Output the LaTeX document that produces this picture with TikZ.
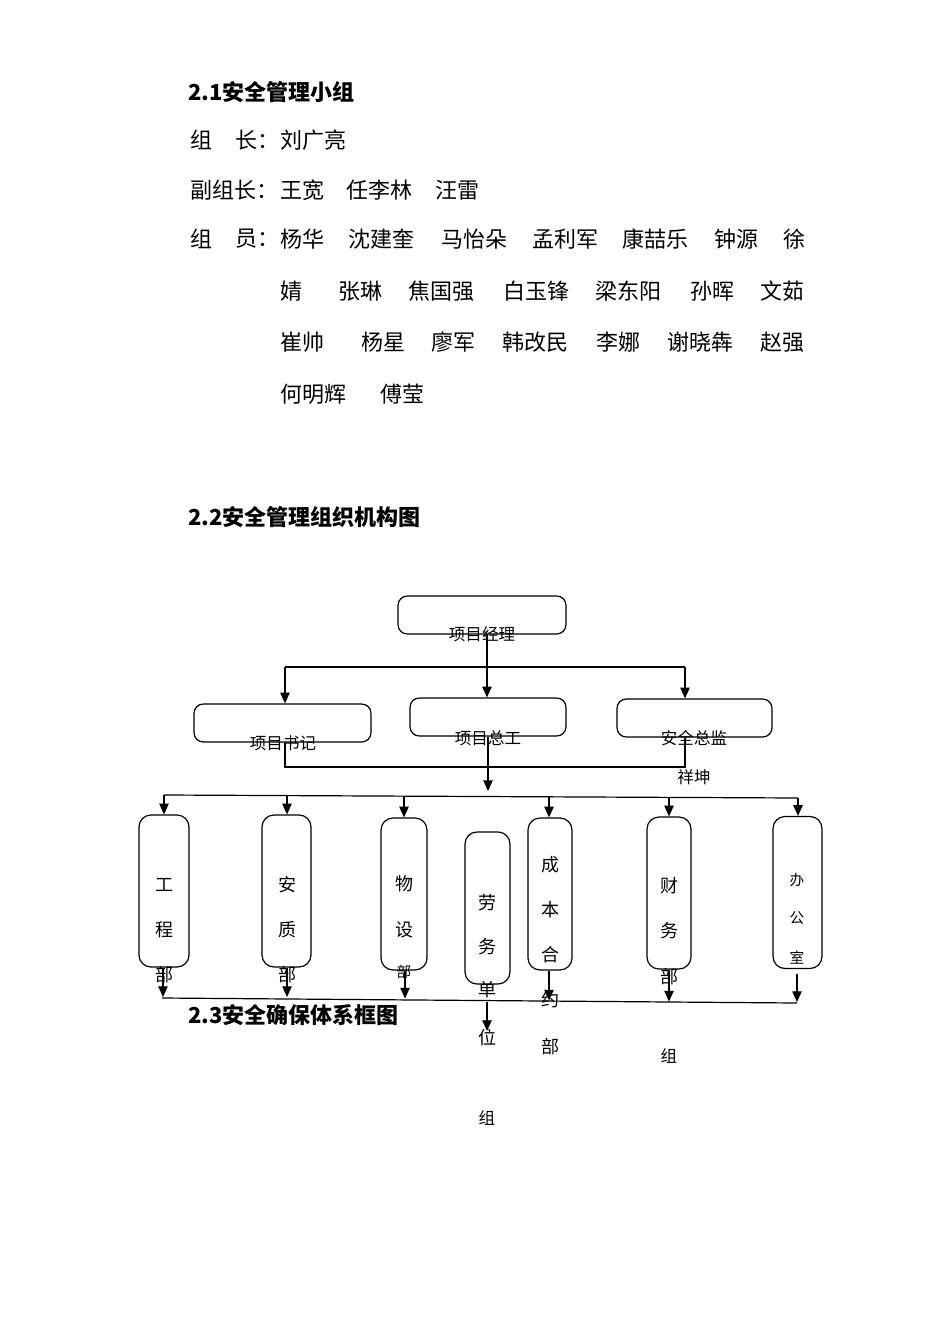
\documentclass[tikz,border=0pt]{standalone}
\usepackage{fontspec}
\setmainfont{Noto Sans CJK SC}
\usetikzlibrary{arrows.meta}
\begin{document}
\begin{tikzpicture}[x=0.75pt,y=-0.75pt,
  body/.style={font=\fontsize{16.5}{16.5}\selectfont, anchor=west, inner sep=0},
  head/.style={font=\fontsize{16.5}{16.5}\selectfont\bfseries, anchor=west, inner sep=0},
  lbl/.style={font=\fontsize{12.4}{12.4}\selectfont, inner sep=0},
  vlbl/.style={font=\fontsize{13.5}{13.5}\selectfont, inner sep=0},
  slbl/.style={font=\fontsize{11}{11}\selectfont, inner sep=0},
  hbox/.style={draw, rounded corners=7pt, line width=0.9pt, inner sep=0, minimum height=28.5pt},
  vbox/.style={draw, rounded corners=9pt, line width=0.9pt, inner sep=0, minimum height=114pt},
  conn/.style={line width=0.9pt},
  arr/.style={conn, -{Triangle[length=8pt,width=7pt]}}]
\fill[white] (0,0) rectangle (950,1344);
\useasboundingbox (0,0) rectangle (950,1344);

% ---- 2.1
\node[head] (h1) at (188,92) {2.1安全管理小组};
\node[body] (r1a) at (190,140) {组};
\node[body] (r1b) at (235,140) {长：};
\node[body] (r1c) at (280,140) {刘广亮};
\node[body] (r2a) at (190,190) {副组长：};
\node[body] (r2b) at (280,190) {王宽};
\node[body] (r2c) at (346,190) {任李林};
\node[body] (r2d) at (435,190) {汪雷};
\node[body] (r3a) at (190,239) {组};
\node[body] (r3b) at (235,239) {员：};
\node[body] (r3c) at (280,239) {杨华};
\node[body] (r3d) at (348,239) {沈建奎};
\node[body] (r3e) at (441,239) {马怡朵};
\node[body] (r3f) at (532,239) {孟利军};
\node[body] (r3g) at (622,239) {康喆乐};
\node[body] (r3h) at (714,239) {钟源};
\node[body] (r3i) at (783,239) {徐};
\node[body] (r4a) at (280,291) {婧};
\node[body] (r4b) at (338,291) {张琳};
\node[body] (r4c) at (408,291) {焦国强};
\node[body] (r4d) at (503,291) {白玉锋};
\node[body] (r4e) at (595,291) {梁东阳};
\node[body] (r4f) at (690,291) {孙晖};
\node[body] (r4g) at (760,291) {文茹};
\node[body] (r5a) at (280,342) {崔帅};
\node[body] (r5b) at (361,342) {杨星};
\node[body] (r5c) at (431,342) {廖军};
\node[body] (r5d) at (502,342) {韩改民};
\node[body] (r5e) at (596,342) {李娜};
\node[body] (r5f) at (667,342) {谢晓犇};
\node[body] (r5g) at (760,342) {赵强};
\node[body] (r6a) at (280,394) {何明辉};
\node[body] (r6b) at (380,394) {傅莹};

% ---- 2.2
\node[head] (h2) at (188,517) {2.2安全管理组织机构图};

% boxes
\node[hbox, minimum width=126pt] (pm) at (482,615) {};
\node[hbox, minimum width=132.75pt] (sj) at (282.5,723) {};
\node[hbox, minimum width=117pt] (zg) at (488,717) {};
\node[hbox, minimum width=116.25pt] (zj) at (694.5,718) {};
\node[lbl] (pmt) at (482,634) {项目经理};
\node[lbl] (sjt) at (283,743) {项目书记};
\node[lbl] (zgt) at (488,738) {项目总工};
\node[lbl] (zjt) at (694,738) {安全总监};
\node[lbl] (zjt2) at (694,777) {祥坤};

\node[vbox, minimum width=37.5pt] (b1) at (164,891) {};
\node[vbox, minimum width=36.75pt] (b2) at (286.5,891) {};
\node[vbox, minimum width=34.5pt] (b3) at (404,894) {};
\node[vbox, minimum width=33.75pt] (b4) at (487.5,908) {};
\node[vbox, minimum width=33pt] (b5) at (550,894) {};
\node[vbox, minimum width=33pt] (b6) at (669,893) {};
\node[vbox, minimum width=36.75pt] (b7) at (797.5,892.5) {};

\node[vlbl] (b1a) at (164,885) {工};
\node[vlbl] (b1b) at (164,930) {程};
\node[vlbl] (b1c) at (164,975) {部};
\node[vlbl] (b2a) at (287,885) {安};
\node[vlbl] (b2b) at (287,930) {质};
\node[vlbl] (b2c) at (287,975) {部};
\node[vlbl] (b3a) at (404,884) {物};
\node[vlbl] (b3b) at (404,930) {设};
\node[slbl] (b3c) at (404,972) {部};
\node[vlbl] (b4a) at (487,903) {劳};
\node[vlbl] (b4b) at (487,947) {务};
\node[vlbl] (b4c) at (487,990) {单};
\node[vlbl] (b4d) at (487,1038) {位};
\node[lbl] (b4e) at (487,1118) {组};
\node[vlbl] (b5a) at (550,865) {成};
\node[vlbl] (b5b) at (550,910) {本};
\node[vlbl] (b5c) at (550,955) {合};
\node[vlbl] (b5d) at (550,1000) {约};
\node[vlbl] (b5e) at (550,1047) {部};
\node[vlbl] (b6a) at (669,886) {财};
\node[vlbl] (b6b) at (669,931) {务};
\node[vlbl] (b6c) at (669,977) {部};
\node[lbl] (b6d) at (669,1056) {组};
\node[slbl] (b7a) at (797,880) {办};
\node[slbl] (b7b) at (797,918) {公};
\node[slbl] (b7c) at (797,958) {室};

% top connectors
\coordinate (bus1L) at (285,667);
\coordinate (bus1R) at (685,667);
\coordinate (pmout) at (487,634);
\draw[conn] (bus1L) -- (bus1R);
\draw[arr] (bus1L) -- (bus1L |- sj.north);
\draw[arr] (bus1R) -- (bus1R |- zj.north);
\draw[arr] (pmout) -- (pmout |- zg.north);

\coordinate (l1) at (285,767);
\coordinate (l2) at (685,767);
\draw[conn] (l1 |- sj.south) -- (l1) -- (l2) -- (l2 |- zj.south);
\coordinate (zgtip) at (488,791);
\draw[arr] (zg.south) -- (zgtip);

% second bus
\coordinate (bus2L) at (164,795);
\coordinate (bus2R) at (798,798);
\draw[conn] (bus2L) -- (bus2R);
\coordinate (d2) at (287,795.6);
\coordinate (d3) at (404,796.1);
\coordinate (d5) at (549,796.8);
\coordinate (d6) at (669,797.4);
\draw[arr] (bus2L) -- (bus2L |- b1.north);
\draw[arr] (d2) -- (d2 |- b2.north);
\draw[arr] (d3) -- (d3 |- b3.north);
\draw[arr] (d5) -- (d5 |- b5.north);
\draw[arr] (d6) -- (d6 |- b6.north);
\draw[arr] (bus2R) -- (bus2R |- b7.north);

% bottom bus
\coordinate (bus3L) at (162,998);
\coordinate (bus3R) at (797,1003);
\draw[conn] (bus3L) -- (bus3R);
\coordinate (t1) at (163,997);
\coordinate (t2) at (287,997);
\coordinate (t3) at (405,998.5);
\coordinate (t5) at (549,1000.5);
\coordinate (t6) at (669,1001.5);
\coordinate (t7) at (797,1002);
\coordinate (s7) at (797,974);
\draw[arr] (t1 |- b1.south) -- (t1);
\draw[arr] (t2 |- b2.south) -- (t2);
\draw[arr] (t3 |- b3.south) -- (t3);
\draw[arr] (t5 |- b5.south) -- (t5);
\draw[arr] (t6 |- b6.south) -- (t6);
\draw[arr] (s7) -- (t7);
\coordinate (lab1) at (487,1002);
\coordinate (lab2) at (487,1031);
\draw[arr] (lab1) -- (lab2);

% ---- 2.3
\node[head] (h3) at (188,1015) {2.3安全确保体系框图};
\end{tikzpicture}
\end{document}
